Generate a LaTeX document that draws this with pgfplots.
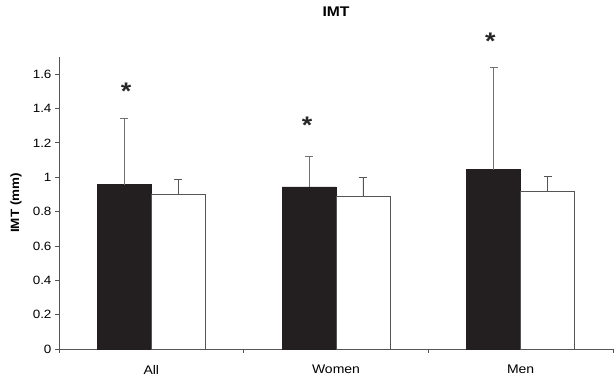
\documentclass[border=0pt]{standalone}
\usepackage{pgfplots}
\pgfplotsset{compat=1.18}
\usepackage{fontspec}
\setmainfont{Liberation Sans}[FakeStretch=1.12]
\definecolor{barblack}{HTML}{231F20}
\definecolor{axisgray}{HTML}{555555}
\definecolor{errgray}{HTML}{707070}
\begin{document}
\begin{tikzpicture}
\path[use as bounding box] (-59pt,-31pt) rectangle (555pt,349pt);
\begin{axis}[
  at={(0,0)}, anchor=south west,
  scale only axis, width=554pt, height=292pt,
  xmin=-0.5, xmax=2.5, ymin=0, ymax=1.7,
  clip=false,
  axis lines*=left,
  axis line style={axisgray, line width=0.8pt},
  xtick={-0.5,0.5,1.5,2.5}, xticklabels={},
  extra x ticks={0,1,2},
  extra x tick labels={All,Women,Men},
  extra x tick style={major tick length=0pt, tick label style={font=\fontsize{12.5}{14}\selectfont, yshift=-12.5pt}},
  ytick={0,0.2,0.4,0.6,0.8,1,1.2,1.4,1.6},
  yticklabels={0,0.2,0.4,0.6,0.8,1,1.2,1.4,1.6},
  /pgf/number format/assume math mode=true,
  tick align=outside, major tick length=4pt,
  tick style={axisgray, line width=0.8pt},
  yticklabel style={font=\fontsize{12}{14}\selectfont},
  title={\textbf{IMT}},
  title style={at={(axis description cs:0.5,1.136)}, anchor=center, font=\fontsize{14}{16}\selectfont},
  ylabel={\textbf{IMT (mm)}},
  ylabel style={at={(axis description cs:-0.0776,0.5)}, anchor=center, font=\fontsize{12}{14}\selectfont},
]
\addplot[ybar, bar width=0.292, bar shift=0pt, fill=barblack, draw=barblack, line width=0.6pt,
  error bars/.cd, y dir=plus, y explicit,
  error bar style={errgray, line width=0.9pt},
  error mark options={errgray, line width=0.9pt, mark size=4pt, rotate=90}]
  coordinates {(-0.146,0.956) +- (0,0.386) (0.854,0.944) +- (0,0.175) (1.854,1.045) +- (0,0.594)};
\addplot[ybar, bar width=0.292, bar shift=0pt, fill=white, draw=axisgray, line width=0.8pt,
  error bars/.cd, y dir=plus, y explicit,
  error bar style={axisgray, line width=0.8pt},
  error mark options={axisgray, line width=0.8pt, mark size=4pt, rotate=90}]
  coordinates {(0.146,0.900) +- (0,0.087) (1.146,0.886) +- (0,0.113) (2.146,0.917) +- (0,0.088)};
\addplot[draw=none, mark=none,
  nodes near coords={\fontsize{24}{24}\selectfont\bfseries *},
  every node near coord/.style={anchor=base, inner sep=0pt, black!85}]
  coordinates {(-0.136,1.450) (0.844,1.257) (1.836,1.741)};
\end{axis}
\end{tikzpicture}
\end{document}
